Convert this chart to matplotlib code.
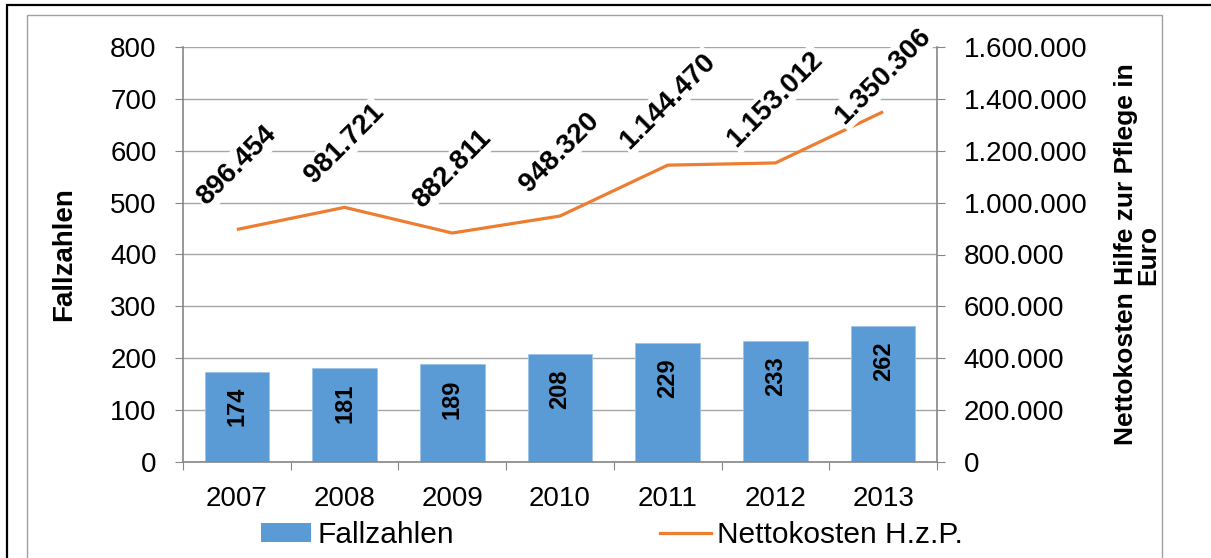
import matplotlib
matplotlib.use("Agg")
import matplotlib.pyplot as plt
from matplotlib.patches import Rectangle
from matplotlib.lines import Line2D
from matplotlib.ticker import FixedLocator, NullFormatter, FuncFormatter

plt.rcParams['font.family'] = ['Liberation Sans', 'DejaVu Sans']

years = ["2007", "2008", "2009", "2010", "2011", "2012", "2013"]
fallzahlen = [174, 181, 189, 208, 229, 233, 262]
nettokosten = [896454, 981721, 882811, 948320, 1144470, 1153012, 1350306]

BLUE = "#5B9BD5"
ORANGE = "#ED7D31"
GRID = "#A6A6A6"
SPINE = "#868686"

W, H = 1211, 558
fig = plt.figure(figsize=(W / 100, H / 100), dpi=100)

# frames
fig.patches.append(Rectangle((7 / W, -0.2), 1.2, 1.2 - 5 / H,
                             transform=fig.transFigure, fill=False,
                             edgecolor="black", linewidth=1.6, zorder=0))
fig.patches.append(Rectangle((27 / W, -0.2), (1162 - 27) / W, 1.2 - 15 / H,
                             transform=fig.transFigure, fill=False,
                             edgecolor="#A0A0A0", linewidth=1.0, zorder=0))

left, right, top, bottom = 183 / W, 937 / W, 1 - 47 / H, 1 - 462 / H
ax = fig.add_axes([left, bottom, right - left, top - bottom])
ax2 = ax.twinx()

x = list(range(len(years)))
ax.bar(x, fallzahlen, width=0.6, color=BLUE, edgecolor="#9DC3E6",
       linewidth=0.6, zorder=2, label="Fallzahlen")
ax.set_ylim(0, 800)
ax.set_xlim(-0.5, len(years) - 0.5)
ax.yaxis.set_major_locator(FixedLocator(list(range(0, 801, 100))))
ax.grid(axis="y", color=GRID, linewidth=1.0, zorder=0)
ax.set_axisbelow(True)

# x ticks: marks at boundaries, labels at centres
ax.xaxis.set_major_locator(FixedLocator([i - 0.5 for i in range(len(years) + 1)]))
ax.xaxis.set_major_formatter(NullFormatter())
ax.xaxis.set_minor_locator(FixedLocator(x))
ax.set_xticklabels(years, minor=True)
ax.tick_params(axis="x", which="major", length=6, color=SPINE, direction="out")
ax.tick_params(axis="x", which="minor", length=0, pad=17, labelsize=20)
ax.tick_params(axis="y", length=6, color=SPINE, pad=13, labelsize=20)

for s in ["top", "right"]:
    ax.spines[s].set_visible(False)
for s in ["left", "bottom"]:
    ax.spines[s].set_color(SPINE)
    ax.spines[s].set_linewidth(1.2)

for s in ["top", "left", "bottom"]:
    ax2.spines[s].set_visible(False)
ax2.spines["right"].set_color(SPINE)
ax2.spines["right"].set_linewidth(1.2)

ax.set_ylabel("Fallzahlen", fontsize=20, fontweight="bold", labelpad=24)

# bar labels
for xi, v in zip(x, fallzahlen):
    ax.annotate(str(v), xy=(xi, v), xytext=(0, -11), textcoords="offset points",
                rotation=90, ha="center", va="top", fontsize=17,
                fontweight="bold", color="black", zorder=4)

# line
ax2.plot(x, nettokosten, color=ORANGE, linewidth=2.3, zorder=3,
         solid_capstyle="butt", label="Nettokosten H.z.P.")
ax2.set_ylim(0, 1600000)
ax2.yaxis.set_major_locator(FixedLocator(list(range(0, 1600001, 200000))))
ax2.yaxis.set_major_formatter(FuncFormatter(lambda v, p: f"{int(v):,}".replace(",", ".")))
ax2.tick_params(axis="y", length=6, color=SPINE, pad=13, labelsize=20)
ax2.set_ylabel("Nettokosten Hilfe zur Pflege in\nEuro", fontsize=19,
               fontweight="bold", labelpad=19, linespacing=0.95)

px = 1600000 / (462 - 47)
off = 64 * px
cap = 1600000 - 29 * px
for xi, v in zip(x, nettokosten):
    ax2.text(xi, min(v + off, cap), f"{v:,}".replace(",", "."), rotation=45,
             ha="center", va="center", fontsize=20, fontweight="bold",
             bbox=dict(facecolor="white", edgecolor="none", pad=1.5), zorder=5)

# legend
handles = [Rectangle((0, 0), 1, 1, facecolor=BLUE, edgecolor="none"),
           Line2D([0], [0], color=ORANGE, linewidth=2.3)]
fig.legend(handles, ["Fallzahlen", "Nettokosten H.z.P."], loc="center",
           bbox_to_anchor=(0.505, 1 - 535 / H), ncol=2, frameon=False,
           fontsize=21.5, handlelength=1.7, handleheight=0.6, handletextpad=0.2,
           columnspacing=6.9)

fig.savefig("out.png", dpi=100)
